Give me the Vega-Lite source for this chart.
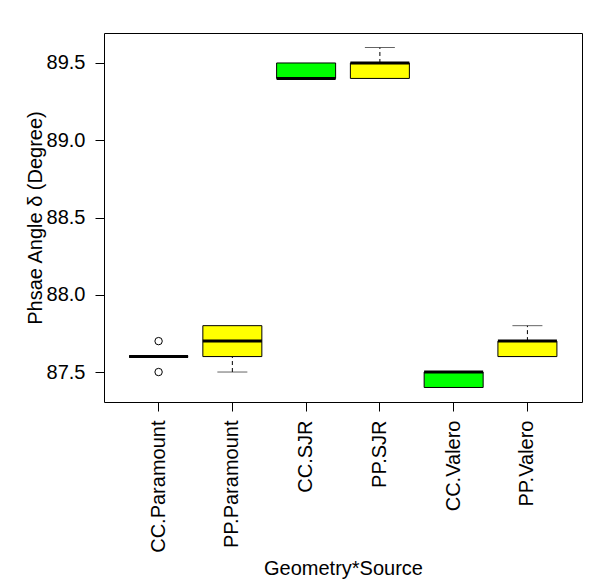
{
  "$schema": "https://vega.github.io/schema/vega-lite/v6.json",
  "width": 478,
  "height": 369,
  "autosize": "none",
  "padding": {"left": 104, "top": 33, "right": 33, "bottom": 182},
  "background": "white",
  "config": {
    "font": "Liberation Sans",
    "view": {"stroke": "black", "strokeWidth": 1},
    "axis": {
      "domain": false,
      "grid": false,
      "tickColor": "black",
      "tickSize": 9,
      "labelFont": "Liberation Sans",
      "labelFontSize": 20,
      "labelColor": "black",
      "titleFont": "Liberation Sans",
      "titleFontSize": 20,
      "titleFontWeight": "normal",
      "titleColor": "black"
    }
  },
  "datasets": {
    "boxes": [
      {"group": "CC.Paramount", "geometry": "CC", "lower": 87.6, "q1": 87.6, "median": 87.6, "q3": 87.6, "upper": 87.6},
      {"group": "PP.Paramount", "geometry": "PP", "lower": 87.5, "q1": 87.6, "median": 87.7, "q3": 87.8, "upper": 87.8},
      {"group": "CC.SJR", "geometry": "CC", "lower": 89.4, "q1": 89.4, "median": 89.4, "q3": 89.5, "upper": 89.5},
      {"group": "PP.SJR", "geometry": "PP", "lower": 89.4, "q1": 89.4, "median": 89.5, "q3": 89.5, "upper": 89.6},
      {"group": "CC.Valero", "geometry": "CC", "lower": 87.4, "q1": 87.4, "median": 87.5, "q3": 87.5, "upper": 87.5},
      {"group": "PP.Valero", "geometry": "PP", "lower": 87.6, "q1": 87.6, "median": 87.7, "q3": 87.7, "upper": 87.8}
    ],
    "outliers": [
      {"group": "CC.Paramount", "value": 87.7},
      {"group": "CC.Paramount", "value": 87.5}
    ]
  },
  "encoding": {
    "x": {
      "field": "group",
      "type": "nominal",
      "sort": ["CC.Paramount", "PP.Paramount", "CC.SJR", "PP.SJR", "CC.Valero", "PP.Valero"],
      "scale": {
        "domain": ["CC.Paramount", "PP.Paramount", "CC.SJR", "PP.SJR", "CC.Valero", "PP.Valero"],
        "paddingInner": 0.2,
        "paddingOuter": 0.34
      },
      "axis": {
        "title": "Geometry*Source",
        "labelAngle": 270,
        "labelPadding": 9,
        "titlePadding": 6
      }
    }
  },
  "layer": [
    {
      "data": {"name": "boxes"},
      "transform": [{"filter": "datum.upper > datum.q3"}],
      "mark": {"type": "rule", "color": "black", "strokeWidth": 1, "strokeDash": [4, 3]},
      "encoding": {
        "y": {"field": "q3", "type": "quantitative", "title": "Phsae Angle δ (Degree)"},
        "y2": {"field": "upper"}
      }
    },
    {
      "data": {"name": "boxes"},
      "transform": [{"filter": "datum.lower < datum.q1"}],
      "mark": {"type": "rule", "color": "black", "strokeWidth": 1, "strokeDash": [4, 3]},
      "encoding": {
        "y": {"field": "lower", "type": "quantitative", "title": "Phsae Angle δ (Degree)"},
        "y2": {"field": "q1"}
      }
    },
    {
      "data": {"name": "boxes"},
      "transform": [{"filter": "datum.upper > datum.q3"}],
      "mark": {"type": "tick", "color": "#222222", "size": 30, "thickness": 1},
      "encoding": {
        "y": {"field": "upper", "type": "quantitative", "title": "Phsae Angle δ (Degree)"}
      }
    },
    {
      "data": {"name": "boxes"},
      "transform": [{"filter": "datum.lower < datum.q1"}],
      "mark": {"type": "tick", "color": "#222222", "size": 30, "thickness": 1},
      "encoding": {
        "y": {"field": "lower", "type": "quantitative", "title": "Phsae Angle δ (Degree)"}
      }
    },
    {
      "data": {"name": "boxes"},
      "mark": {"type": "bar", "stroke": "black", "strokeWidth": 1, "opacity": 1},
      "encoding": {
        "y": {
          "field": "q1",
          "type": "quantitative",
          "title": "Phsae Angle δ (Degree)",
          "scale": {"domain": [87.306, 89.694], "nice": false, "zero": false},
          "axis": {
            "values": [87.5, 88.0, 88.5, 89.0, 89.5],
            "format": ".1f",
            "labelPadding": 10,
            "titlePadding": 1
          }
        },
        "y2": {"field": "q3"},
        "fill": {
          "field": "geometry",
          "type": "nominal",
          "scale": {"domain": ["CC", "PP"], "range": ["#00FF00", "#FFFF00"]},
          "legend": null
        }
      }
    },
    {
      "data": {"name": "boxes"},
      "mark": {"type": "tick", "color": "black", "size": 59, "thickness": 3, "opacity": 1},
      "encoding": {
        "y": {"field": "median", "type": "quantitative", "title": "Phsae Angle δ (Degree)"}
      }
    },
    {
      "data": {"name": "outliers"},
      "mark": {"type": "point", "shape": "circle", "filled": false, "stroke": "black", "strokeWidth": 1, "size": 55, "opacity": 1},
      "encoding": {
        "y": {"field": "value", "type": "quantitative", "title": "Phsae Angle δ (Degree)"}
      }
    }
  ]
}
